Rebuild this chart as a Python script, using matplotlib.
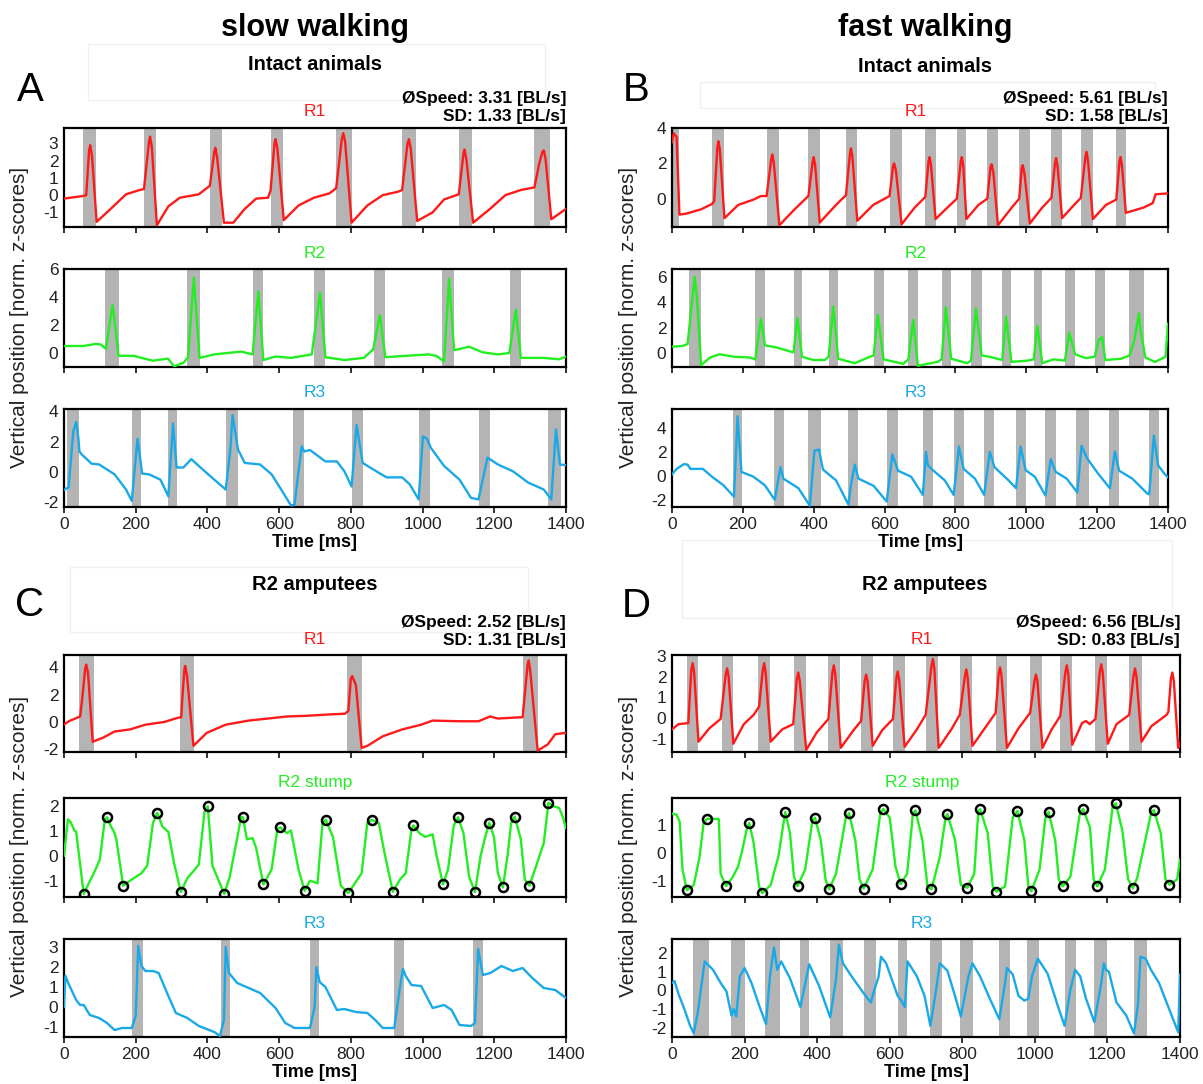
import numpy as np
import matplotlib
matplotlib.use('Agg')
import matplotlib.pyplot as plt
from matplotlib.patches import Rectangle

plt.rcParams['font.family'] = ['Liberation Sans', 'DejaVu Sans']
plt.rcParams['axes.unicode_minus'] = False

W, H = 1203, 1084

# ---- leg traces: (time [ms], z-score) ----
a_r1 = [(0, -0.2), (53, -0.05), (62, 0.0), (70, 2.6), (73, 2.9), (78, 2.3), (91, -1.55), (130, -0.8), (173, 0.05),
        (211, 0.3), (223, 0.35), (237, 3.1), (240, 3.4), (245, 2.8), (259, -1.75), (291, -0.65), (323, -0.15),
        (376, 0.05), (407, 0.55), (419, 2.5), (422, 2.75), (427, 2.2), (446, -1.6), (472, -1.6), (504, -0.8),
        (536, -0.2), (569, -0.15), (576, 0.25), (587, 3.0), (590, 3.25), (595, 2.7), (613, -1.45), (654, -0.6),
        (697, -0.15), (740, 0.1), (759, 0.4), (775, 3.3), (779, 3.6), (784, 3.1), (802, -1.6), (846, -0.6),
        (889, 0.0), (932, 0.2), (943, 0.3), (958, 3.0), (962, 3.25), (967, 2.7), (985, -1.5), (1028, -1.0),
        (1060, -0.25), (1101, 0.05), (1114, 2.4), (1117, 2.65), (1122, 2.1), (1141, -1.6), (1188, -0.8),
        (1231, 0.0), (1274, 0.3), (1312, 0.45), (1325, 1.8), (1334, 2.5), (1338, 2.6), (1343, 2.1), (1359, -1.4),
        (1400, -0.8)]
a_r2 = [(0, 0.5), (55, 0.5), (88, 0.65), (103, 0.6), (117, 0.3), (135, 3.4), (139, 2.8), (152, -0.2), (194, -0.2),
        (247, -0.55), (290, -0.4), (307, -0.95), (333, -0.7), (346, -0.3), (362, 5.4), (378, -0.35), (419, -0.1),
        (494, 0.1), (526, -0.1), (542, 4.4), (556, -0.5), (590, -0.25), (633, -0.35), (691, -0.1), (714, 4.3),
        (729, -0.3), (782, -0.5), (836, -0.35), (862, 0.25), (881, 2.7), (896, -0.3), (954, -0.2), (1017, -0.1),
        (1038, -0.2), (1060, -0.6), (1074, 5.3), (1088, 0.2), (1130, 0.45), (1167, 0.05), (1210, -0.1),
        (1242, 0.0), (1260, 3.1), (1274, -0.35), (1338, -0.35), (1381, -0.45), (1400, -0.25)]
a_r3 = [(2, -1.15), (13, -1.0), (26, 2.7), (34, 3.3), (40, 2.25), (43, 1.35), (50, 1.15), (77, 0.55), (98, 0.5),
        (141, -0.15), (173, -1.15), (189, -1.9), (205, 2.2), (218, -0.1), (237, -0.15), (269, -0.5), (291, -1.6),
        (304, 3.2), (314, 0.3), (333, 0.3), (355, 0.85), (376, 0.4), (419, -0.5), (451, -1.15), (464, 1.5),
        (470, 3.75), (485, 1.5), (504, 0.6), (547, 0.5), (579, -0.15), (611, -1.35), (633, -2.2), (643, -2.15),
        (654, 0.05), (663, 1.7), (670, 1.35), (686, 1.45), (729, 0.7), (761, 0.7), (782, 0.05), (802, -0.95),
        (816, 3.1), (833, 0.6), (878, -0.05), (900, -0.35), (943, -0.35), (964, -0.8), (989, -1.8), (1001, 2.35),
        (1012, 2.2), (1023, 1.6), (1060, 0.4), (1103, -0.5), (1135, -1.7), (1156, -1.8), (1181, 0.95), (1210, 0.5),
        (1252, 0.05), (1295, -0.7), (1338, -1.15), (1359, -1.8), (1372, 2.8), (1383, 0.5), (1400, 0.45)]

b_r1 = [(0, 3.2), (5, 3.7), (13, 3.5), (21, -0.9), (39, -0.85), (82, -0.6), (113, -0.3), (119, -0.15), (128, 2.9),
        (131, 3.25), (135, 2.8), (148, -1.1), (187, -0.35), (230, -0.05), (251, 0.15), (267, 0.15), (280, 2.2),
        (283, 2.5), (287, 2.1), (303, -1.5), (346, -0.6), (385, 0.15), (397, 2.1), (400, 2.35), (404, 1.9),
        (417, -1.35), (463, -0.35), (491, 0.2), (502, 2.5), (505, 2.85), (509, 2.4), (523, -1.25), (568, -0.35),
        (614, 0.15), (624, 1.85), (627, 2.0), (632, 1.6), (648, -1.45), (685, -0.5), (715, 0.1), (724, 2.1),
        (727, 2.35), (731, 1.9), (744, -1.15), (780, -0.45), (804, 0.0), (815, 2.1), (818, 2.35), (822, 1.9),
        (831, -1.15), (865, -0.35), (890, 0.0), (899, 1.8), (902, 1.95), (907, 1.5), (920, -1.5), (961, -0.45),
        (980, 0.0), (987, 1.7), (990, 1.9), (995, 1.4), (1010, -1.4), (1045, -0.5), (1071, 0.05), (1081, 2.0),
        (1084, 2.3), (1088, 1.9), (1101, -1.1), (1135, -0.35), (1154, 0.05), (1167, 2.4), (1170, 2.65),
        (1174, 2.2), (1188, -1.15), (1225, -0.35), (1254, -0.05), (1263, 2.1), (1266, 2.35), (1270, 1.9),
        (1281, -0.8), (1331, -0.5), (1357, -0.25), (1365, 0.25), (1400, 0.3)]
b_r2 = [(0, 0.5), (29, 0.55), (44, 0.7), (64, 6.0), (71, 4.1), (82, -0.95), (108, -0.35), (134, -0.1), (177, -0.3),
        (219, -0.35), (235, -0.5), (251, 2.7), (262, 0.6), (293, 0.45), (343, 0.05), (354, 2.75), (367, -0.3),
        (399, -0.55), (431, -0.55), (442, -0.3), (455, 3.65), (469, -0.45), (516, -0.8), (558, -0.3), (569, -0.2),
        (581, 3.0), (597, -0.5), (653, -0.85), (667, -0.5), (681, 2.6), (694, -1.0), (749, -0.7), (761, -0.5),
        (773, 3.6), (788, -0.45), (833, -0.8), (844, -0.6), (858, 3.5), (874, -0.2), (897, -0.3), (932, -0.55),
        (943, 2.85), (958, -0.7), (1003, -0.6), (1021, -0.5), (1031, 2.15), (1045, -0.8), (1077, -0.5),
        (1109, -0.6), (1121, 1.6), (1138, -0.1), (1167, -0.4), (1193, -0.3), (1204, 1.0), (1214, 1.25),
        (1223, -0.55), (1268, -0.45), (1291, -0.2), (1305, 1.0), (1318, 3.1), (1322, 1.9), (1336, -0.35),
        (1363, -0.7), (1393, -0.3), (1400, 2.3)]
b_r3 = [(0, 0.15), (13, 0.6), (34, 1.0), (44, 0.95), (52, 0.6), (87, 0.6), (113, -0.05), (145, -0.75), (175, -1.7),
        (185, 4.95), (196, 0.35), (230, -0.05), (262, -0.75), (290, -1.95), (306, 0.75), (314, -0.2), (357, -1.0),
        (389, -2.45), (402, 2.1), (415, 2.2), (426, 0.55), (463, -0.35), (498, -2.35), (505, -0.75), (516, 0.95),
        (526, -0.2), (569, -0.8), (606, -2.1), (622, 1.8), (638, 0.45), (675, -0.05), (708, -1.55), (717, 2.0),
        (722, 0.9), (738, 0.45), (770, -0.35), (795, -1.55), (810, 2.45), (823, 0.6), (855, -0.2), (881, -1.55),
        (897, 2.0), (910, 0.75), (950, -0.35), (971, -1.0), (984, 2.45), (998, 0.5), (1024, -0.05), (1054, -1.6),
        (1069, 1.4), (1083, 0.35), (1114, -0.2), (1144, -1.35), (1156, 2.5), (1172, 1.45), (1203, 0.2),
        (1236, -1.0), (1250, 2.05), (1262, 0.45), (1299, -0.2), (1342, -1.45), (1347, -1.5), (1360, 3.35),
        (1372, 0.9), (1390, 0.2), (1400, -0.1)]

c_r1 = [(0, -0.2), (13, 0.05), (45, 0.4), (52, 2.0), (59, 3.9), (62, 4.2), (67, 3.6), (80, -1.45), (109, -1.15),
        (141, -0.7), (184, -0.55), (227, -0.2), (280, 0.0), (317, 0.3), (327, 0.35), (332, 2.5), (336, 3.9),
        (338, 4.1), (343, 3.4), (361, -1.75), (398, -0.8), (451, -0.2), (515, 0.1), (569, 0.25), (622, 0.4),
        (676, 0.45), (740, 0.55), (783, 0.6), (793, 0.8), (800, 3.2), (804, 3.35), (814, 2.7), (830, -1.9),
        (846, -1.75), (889, -1.05), (943, -0.55), (996, -0.2), (1028, 0.1), (1103, 0.05), (1156, 0.05),
        (1188, 0.4), (1210, 0.25), (1279, 0.35), (1293, 4.2), (1296, 4.5), (1300, 3.8), (1321, -2.1),
        (1349, -1.65), (1370, -0.9), (1400, -0.8)]
c_r2 = [(0, 0.0), (11, 1.45), (18, 1.35), (29, 1.0), (34, 0.95), (55, -1.53), (66, -1.2), (88, -0.55), (100, -0.15),
        (114, 1.45), (120, 1.53), (130, 1.2), (141, 0.9), (146, 0.65), (165, -1.2), (184, -1.0), (216, -0.7),
        (232, -0.4), (248, 1.3), (260, 1.71), (275, 1.15), (291, 0.95), (307, -0.3), (326, -1.45), (344, -0.9),
        (365, -0.55), (376, -0.35), (392, 1.75), (401, 1.97), (414, -0.4), (447, -1.53), (462, -0.85), (481, 0.55),
        (494, 1.55), (499, 1.53), (510, 0.65), (526, 0.7), (536, 0.3), (556, -1.15), (579, -0.55), (595, 1.05),
        (603, 1.13), (622, 0.9), (633, 1.0), (654, -0.55), (671, -1.4), (686, -1.0), (707, -1.1), (721, 1.3),
        (730, 1.43), (750, 0.75), (772, -1.2), (793, -1.49), (809, -1.15), (830, -0.7), (846, 1.3), (858, 1.43),
        (878, 1.3), (894, 0.1), (917, -1.44), (937, -0.95), (953, -0.7), (969, 1.05), (974, 1.21), (991, 0.9),
        (1007, 0.75), (1028, 0.85), (1039, 0.0), (1057, -1.15), (1071, -0.55), (1087, 1.2), (1099, 1.53),
        (1114, 0.9), (1130, -0.85), (1146, -1.45), (1162, 0.0), (1173, 0.65), (1186, 1.32), (1199, 0.75),
        (1210, -0.7), (1224, -1.27), (1237, 0.0), (1247, 1.3), (1257, 1.56), (1274, 0.65), (1285, -0.95),
        (1298, -1.2), (1317, -0.4), (1338, 0.5), (1351, 2.11), (1365, 1.97), (1381, 1.9), (1391, 1.55),
        (1400, 1.1)]
c_r3 = [(0, 0.0), (4, 1.55), (13, 1.15), (34, 0.35), (45, 0.1), (55, 0.1), (72, -0.4), (98, -0.55), (120, -0.8),
        (141, -1.15), (162, -1.05), (189, -1.05), (200, -0.45), (207, 3.05), (216, 2.05), (227, 1.8), (248, 1.8),
        (264, 1.7), (291, 0.55), (312, -0.3), (344, -0.55), (376, -0.95), (419, -1.25), (435, -1.45),
        (446, -0.65), (451, 3.0), (460, 1.7), (483, 1.2), (515, 0.95), (547, 0.7), (590, -0.05), (617, -0.8),
        (643, -1.05), (686, -1.05), (699, 0.0), (704, 2.0), (713, 1.25), (729, 1.0), (761, -0.15), (782, -0.1),
        (814, -0.25), (846, -0.3), (868, -0.65), (889, -1.05), (921, -1.05), (937, 1.0), (945, 1.9), (953, 1.55),
        (969, 1.1), (996, 1.05), (1028, -0.05), (1060, 0.1), (1081, -0.15), (1103, -0.9), (1135, -0.95),
        (1146, -0.8), (1155, 2.9), (1168, 1.6), (1189, 1.7), (1220, 2.05), (1252, 1.8), (1279, 1.95),
        (1306, 1.45), (1338, 0.95), (1370, 0.85), (1400, 0.45)]

d_r1 = [(0, -0.55), (18, -0.3), (45, -0.25), (53, 2.3), (57, 2.65), (61, 2.2), (73, -1.15), (103, -0.5),
        (134, -0.05), (148, 2.1), (152, 2.4), (156, 2.0), (169, -1.25), (198, -0.3), (225, 0.15), (240, 0.55),
        (250, 2.3), (254, 2.65), (258, 2.2), (272, -1.15), (304, -0.55), (334, -0.3), (344, 1.9), (348, 2.2),
        (352, 1.8), (370, -1.55), (399, -0.7), (431, -0.05), (442, 2.2), (446, 2.55), (450, 2.1), (465, -1.45),
        (500, -0.6), (521, -0.15), (531, 1.8), (535, 2.1), (539, 1.8), (553, -1.35), (579, -0.6), (609, -0.05),
        (618, 1.9), (622, 2.25), (626, 1.85), (641, -1.4), (675, -0.55), (699, 0.15), (715, 2.5), (719, 2.85),
        (723, 2.4), (735, -1.45), (770, -0.55), (793, 0.15), (807, 2.0), (811, 2.35), (815, 1.95), (828, -1.35),
        (860, -0.55), (892, 0.25), (900, 2.1), (904, 2.45), (908, 2.05), (923, -1.45), (955, -0.5), (987, 0.25),
        (999, 1.8), (1003, 2.1), (1007, 1.8), (1021, -1.45), (1045, -0.6), (1070, 0.1), (1084, 2.2), (1088, 2.55),
        (1092, 2.15), (1103, -1.3), (1130, -0.25), (1141, -0.15), (1151, -0.3), (1167, -0.05), (1179, 2.25),
        (1183, 2.6), (1187, 2.2), (1201, -1.25), (1225, -0.3), (1260, 0.15), (1272, 2.05), (1276, 2.4),
        (1280, 2.0), (1294, -1.15), (1321, -0.4), (1363, 0.15), (1368, 0.3), (1375, 1.9), (1379, 2.2),
        (1383, 1.8), (1395, -1.45), (1400, -1.2)]
d_r2 = [(0, 1.4), (13, 1.35), (21, 1.1), (29, -0.6), (41, -1.34), (60, -1.15), (76, -0.15), (87, 1.05), (97, 1.21),
        (129, 1.2), (134, -0.75), (149, -1.19), (166, -0.9), (182, -0.5), (193, 0.05), (207, 0.9), (213, 1.06),
        (225, 0.35), (240, -1.2), (249, -1.44), (272, -1.15), (293, -0.15), (312, 1.45), (325, 0.7), (336, -0.85),
        (346, -1.19), (367, -0.6), (387, 1.15), (394, 1.25), (410, 0.45), (423, -0.95), (433, -1.31), (452, -0.75),
        (479, 1.25), (488, 1.41), (505, 0.45), (517, -0.95), (528, -1.28), (553, -0.6), (574, 1.4), (582, 1.56),
        (600, 1.25), (616, -0.5), (630, -1.12), (648, -0.75), (664, 1.4), (671, 1.51), (690, 0.45), (704, -1.2),
        (715, -1.31), (738, -0.15), (754, 1.25), (759, 1.38), (780, 0.45), (796, -1.15), (814, -1.25),
        (833, -0.75), (844, 1.45), (849, 1.55), (870, 0.7), (884, -1.2), (894, -1.39), (918, -1.2), (939, 1.25),
        (952, 1.49), (971, 0.45), (982, -1.2), (990, -1.38), (1013, -0.6), (1029, 1.25), (1038, 1.45),
        (1056, 0.45), (1066, -0.95), (1077, -1.2), (1098, -0.85), (1124, 1.4), (1133, 1.56), (1152, 0.9),
        (1162, -0.95), (1172, -1.2), (1193, -0.6), (1214, 1.6), (1223, 1.76), (1241, 0.8), (1257, -0.95),
        (1270, -1.27), (1282, -0.9), (1321, 1.45), (1328, 1.52), (1347, 0.7), (1360, -0.95), (1371, -1.14),
        (1392, -0.95), (1400, -0.25)]
d_r3 = [(0, 0.4), (7, 0.5), (18, -0.2), (34, -1.0), (50, -1.9), (60, -2.3), (71, -1.2), (90, 1.55), (103, 1.3),
        (113, 1.1), (134, 0.4), (150, -0.05), (164, -1.35), (170, -1.0), (177, -1.4), (187, 0.75), (200, 1.2),
        (219, 0.4), (240, -0.8), (259, -1.8), (270, 0.75), (281, 2.3), (290, 1.1), (301, 1.55), (325, 0.65),
        (354, -0.9), (378, 1.4), (405, 0.25), (436, -1.45), (452, 0.6), (460, 2.45), (471, 1.45), (495, 0.75),
        (526, -0.1), (548, -0.65), (558, 0.05), (569, 0.7), (576, 1.8), (590, 1.45), (622, -0.3), (632, -0.55),
        (642, -0.9), (649, 1.55), (675, 0.75), (696, -0.3), (712, -1.9), (728, 0.05), (738, 1.45), (759, 1.05),
        (780, -0.3), (796, -1.4), (817, 0.75), (828, 1.45), (849, 0.75), (876, -0.45), (902, -1.55), (918, 0.4),
        (923, 1.2), (939, 0.85), (955, -0.3), (971, -0.55), (982, -0.45), (992, 0.75), (1008, 1.7), (1035, 0.9),
        (1066, -1.0), (1082, -1.9), (1098, 0.05), (1111, 1.1), (1125, 0.75), (1141, -0.45), (1164, -1.7),
        (1183, 0.4), (1190, 1.45), (1196, 1.1), (1204, 1.0), (1225, -0.65), (1252, -1.35), (1273, -2.3),
        (1284, -0.8), (1291, 1.8), (1305, 1.7), (1320, 1.1), (1342, 0.4), (1363, -0.65), (1384, -1.7),
        (1395, -2.25), (1400, 0.85)]

# ---- stance phases (start, end) in ms ----
a_r1_stance = [(53, 88), (223, 256), (407, 442), (576, 611), (759, 802), (943, 983), (1101, 1138), (1312, 1356)]
a_r2_stance = [(115, 153), (344, 378), (526, 556), (696, 729), (864, 896), (1055, 1088), (1243, 1274)]
a_r3_stance = [(9, 42), (190, 214), (291, 316), (451, 485), (638, 670), (802, 833), (989, 1022), (1156, 1188),
               (1351, 1385)]
b_r1_stance = [(0, 20), (113, 148), (267, 303), (385, 417), (491, 523), (614, 648), (715, 744), (804, 831),
               (890, 920), (980, 1010), (1071, 1101), (1154, 1188), (1254, 1281)]
b_r2_stance = [(47, 82), (235, 262), (343, 367), (442, 469), (569, 597), (667, 694), (761, 788), (844, 874),
               (932, 958), (1021, 1045), (1109, 1138), (1193, 1223), (1291, 1331)]
b_r3_stance = [(172, 198), (287, 315), (385, 420), (497, 526), (606, 638), (708, 736), (795, 823), (881, 910),
               (971, 998), (1054, 1083), (1141, 1176), (1234, 1262), (1345, 1374)]
c_r1_stance = [(41, 83), (323, 363), (789, 831), (1281, 1321)]
c_r3_stance = [(189, 221), (438, 462), (687, 710), (921, 948), (1141, 1169)]
d_r1_stance = [(42, 73), (137, 169), (237, 270), (336, 370), (431, 463), (521, 553), (609, 641), (699, 733),
               (793, 828), (892, 923), (987, 1021), (1070, 1103), (1167, 1199), (1260, 1294)]
d_r3_stance = [(58, 101), (163, 201), (256, 299), (354, 378), (436, 471), (528, 563), (624, 648), (712, 743),
               (793, 830), (902, 931), (979, 1011), (1082, 1114), (1164, 1199), (1273, 1308)]

# ---- stump extrema (circled) ----
c_r2_marks = [(55, -1.53), (120, 1.53), (165, -1.2), (260, 1.71), (326, -1.45), (401, 1.97), (447, -1.53),
              (499, 1.53), (556, -1.15), (603, 1.13), (671, -1.4), (730, 1.43), (793, -1.49), (858, 1.43),
              (917, -1.44), (974, 1.21), (1057, -1.15), (1099, 1.53), (1146, -1.45), (1186, 1.32), (1224, -1.27),
              (1257, 1.56), (1298, -1.2), (1351, 2.11)]
d_r2_marks = [(41, -1.34), (97, 1.21), (149, -1.19), (213, 1.06), (249, -1.44), (312, 1.45), (346, -1.19),
              (394, 1.25), (433, -1.31), (488, 1.41), (528, -1.28), (582, 1.56), (630, -1.12), (671, 1.51),
              (715, -1.31), (759, 1.38), (814, -1.25), (849, 1.55), (894, -1.39), (952, 1.49), (990, -1.38),
              (1038, 1.45), (1077, -1.2), (1133, 1.56), (1172, -1.2), (1223, 1.76), (1270, -1.27), (1328, 1.52),
              (1371, -1.14)]

speeds = {'A': ('3.31', '1.33'), 'B': ('5.61', '1.58'), 'C': ('2.52', '1.31'), 'D': ('6.56', '0.83')}

RED, GREEN, BLUE = '#ff1a1a', '#22ee22', '#1aa9e6'
BAND = '#b4b4b4'

fig = plt.figure(figsize=(W / 100, H / 100), dpi=100)


def fx(x):
    return x / W


def fy(y):
    return 1 - y / H


def make_ax(left, right, top, bottom):
    return fig.add_axes([fx(left), fy(bottom), fx(right) - fx(left), (bottom - top) / H])


def leg_plot(ax, trace, color, ylim, yticks, stance=None, marks=None, last=False):
    t, v = np.array(trace).T
    if stance:
        for s, e in stance:
            ax.axvspan(s, e, color=BAND, lw=0, zorder=1)
    ax.plot(t, v, color=color, lw=1.7, zorder=3, solid_joinstyle='round')
    if marks:
        mt, mv = np.array(marks).T
        ax.plot(mt, mv, 'o', ms=6.5, mfc='none', mec='black', mew=1.8, zorder=4)
    ax.set_xlim(0, 1400)
    ax.set_ylim(*ylim)
    ax.set_yticks(yticks)
    ax.set_xticks(range(0, 1401, 200))
    ax.tick_params(axis='y', length=0, pad=4, labelsize=12.5, colors='#222222')
    ax.tick_params(axis='x', length=4, width=1.3, direction='out', labelsize=12.5, colors='#222222')
    if not last:
        ax.set_xticklabels([])
    else:
        ax.set_xlabel('Time [ms]', fontsize=13, fontweight='bold', labelpad=1)
    for sp in ax.spines.values():
        sp.set_linewidth(1.6)
        sp.set_color('black')


# column geometry in pixels
cols = {'A': (64, 566), 'B': (672, 1168), 'C': (64, 566), 'D': (672, 1180)}
rows_top = [(128, 227), (269, 367), (409, 507)]
rows_bot = [(655, 752), (798, 897), (939, 1037)]

panels = {
    'A': [(a_r1, RED, (-1.85, 3.9), [-1, 0, 1, 2, 3], a_r1_stance, None, 'R1'),
          (a_r2, GREEN, (-1.0, 6.0), [0, 2, 4, 6], a_r2_stance, None, 'R2'),
          (a_r3, BLUE, (-2.3, 4.15), [-2, 0, 2, 4], a_r3_stance, None, 'R3')],
    'B': [(b_r1, RED, (-1.6, 4.0), [0, 2, 4], b_r1_stance, None, 'R1'),
          (b_r2, GREEN, (-1.1, 6.6), [0, 2, 4, 6], b_r2_stance, None, 'R2'),
          (b_r3, BLUE, (-2.55, 5.55), [-2, 0, 2, 4], b_r3_stance, None, 'R3')],
    'C': [(c_r1, RED, (-2.2, 4.9), [-2, 0, 2, 4], c_r1_stance, None, 'R1'),
          (c_r2, GREEN, (-1.65, 2.3), [-1, 0, 1, 2], None, c_r2_marks, 'R2 stump'),
          (c_r3, BLUE, (-1.5, 3.4), [-1, 0, 1, 2, 3], c_r3_stance, None, 'R3')],
    'D': [(d_r1, RED, (-1.65, 3.05), [-1, 0, 1, 2, 3], d_r1_stance, None, 'R1'),
          (d_r2, GREEN, (-1.58, 1.95), [-1, 0, 1], None, d_r2_marks, 'R2 stump'),
          (d_r3, BLUE, (-2.5, 2.75), [-2, -1, 0, 1, 2], d_r3_stance, None, 'R3')],
}

for key, subplots in panels.items():
    left, right = cols[key]
    rows = rows_top if key in 'AB' else rows_bot
    cx = (left + right) / 2 + (0 if key in 'AC' else -4)
    for i, (trace, color, ylim, yt, stance, marks, name) in enumerate(subplots):
        top, bottom = rows[i]
        ax = make_ax(left, right, top, bottom)
        leg_plot(ax, trace, color, ylim, yt, stance, marks, last=(i == 2))
        fig.text(fx(cx), fy(top - 16), name, color=color, fontsize=12.5, ha='center', va='center')
    # y label next to the middle row
    mid = (rows[0][0] + rows[2][1]) / 2
    fig.text(fx(left - 44), fy(mid), 'Vertical position [norm. z-scores]', rotation=90,
             fontsize=15, ha='center', va='center', color='#222222')
    # speed box
    sp, sd = speeds[key]
    y0 = 98 if key in 'AB' else 622
    fig.text(fx(right), fy(y0), '\u00d8Speed: %s [BL/s]' % sp, fontsize=12.5, fontweight='bold',
             ha='right', va='center')
    fig.text(fx(right), fy(y0 + 18), 'SD: %s [BL/s]' % sd, fontsize=12.5, fontweight='bold',
             ha='right', va='center')

# headers
fig.text(fx(315), fy(28), 'slow walking', fontsize=22, fontweight='bold', ha='center', va='center')
fig.text(fx(925), fy(28), 'fast walking', fontsize=22, fontweight='bold', ha='center', va='center')
fig.text(fx(315), fy(64), 'Intact animals', fontsize=14.5, fontweight='bold', ha='center', va='center')
fig.text(fx(925), fy(66), 'Intact animals', fontsize=14.5, fontweight='bold', ha='center', va='center')
fig.text(fx(315), fy(584), 'R2 amputees', fontsize=14.5, fontweight='bold', ha='center', va='center')
fig.text(fx(925), fy(585), 'R2 amputees', fontsize=14.5, fontweight='bold', ha='center', va='center')

for letter, (x, y) in {'A': (30, 90), 'B': (636, 90), 'C': (30, 605), 'D': (636, 606)}.items():
    fig.text(fx(x), fy(y), letter, fontsize=29, ha='center', va='center')

# faint frames left around the group headers
for (x0, y0, x1, y1) in [(88, 44, 545, 100), (700, 82, 1155, 108), (70, 567, 528, 632), (682, 540, 1172, 618)]:
    fig.add_artist(Rectangle((fx(x0), fy(y1)), fx(x1) - fx(x0), (y1 - y0) / H, transform=fig.transFigure,
                             fill=False, ec='#f0f0f0', lw=1, zorder=0))

fig.savefig('out.png', dpi=100)
